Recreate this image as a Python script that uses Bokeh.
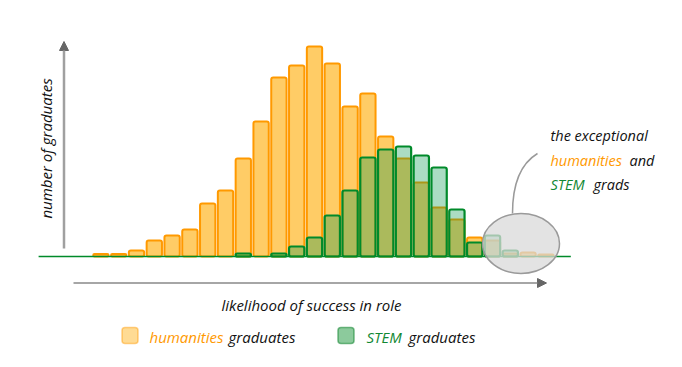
import math
from bokeh.plotting import figure
from bokeh.core.properties import value
from bokeh.models import Arrow, NormalHead
from bokeh.embed import file_html
from bokeh.resources import INLINE

# ---------------- data ----------------
bins = list(range(29))  # likelihood-of-success bins (left = low, right = high)
humanities = [0, 0, 0, 2.5, 2.5, 6, 16, 21, 27, 53, 66, 98, 135, 179, 191, 210,
              193, 150, 163, 120, 98, 74, 49, 37, 19, 16, 3, 4, 2]
stem = [0, 0, 0, 0, 0, 0, 0, 0, 0, 0, 0, 3, 0, 3, 10, 19, 41, 66, 99, 107,
        110, 101, 89, 47, 14, 21, 6, 0, 0]
x_label = "likelihood of success in role"
y_label = "number of graduates"
legend_labels = ["humanities", "STEM"]

# ---------------- styles ----------------
ORANGE = "#FF9900"
ORANGE_FILL = "#FFCC66"
GREEN = "#008A2A"
GREEN_FILL = "#00964A"
GREEN_TXT = "#118833"
FONT = value("Open Sans")

W, H = 666, 351
STEP = 17.8          # px per bin
X0 = 47              # px of first bin centre
BASE = 256           # px of zero line from top

x_start = -X0 / STEP
x_end = x_start + W / STEP

def sx(px):
    return (px - X0) / STEP

def sy(py):
    return BASE - py

p = figure(width=W, height=H, x_range=(x_start, x_end), y_range=(-(H - BASE), BASE),
           output_backend="svg", toolbar_location=None,
           x_axis_location=None, y_axis_location=None, min_border=0)
p.grid.visible = False
p.outline_line_color = None
p.background_fill_color = "white"

hx = [b for b, v in zip(bins, humanities) if v > 0]
hv = [v for v in humanities if v > 0]
gx = [b for b, v in zip(bins, stem) if v > 0]
gv = [v for v in stem if v > 0]

p.vbar(x=hx, top=hv, bottom=0, width=0.86, fill_color=ORANGE_FILL,
       line_color=ORANGE, line_width=2, border_radius=2)

n = len(bins)
p.segment(x0=[-0.5], y0=[0], x1=[n + 0.4], y1=[0], line_color=GREEN, line_width=1.5)

p.vbar(x=gx, top=gv, bottom=0, width=0.86, fill_color=GREEN_FILL, fill_alpha=0.33,
       line_color=GREEN, line_width=2.2, border_radius=2)

# highlight ellipse + pointer curve
p.ellipse(x=[sx(520.5)], y=[sy(243)], width=77 / STEP, height=60,
          fill_color="#D9D9D9", fill_alpha=0.75, line_color="#9A9A9A", line_width=1.5)
p.quadratic(x0=[sx(537)], y0=[sy(153)], x1=[sx(512)], y1=[sy(213)],
            cx=[sx(512)], cy=[sy(168)], line_color="#9A9A9A", line_width=1.5)

# axis arrows
p.add_layout(Arrow(end=NormalHead(size=9, fill_color="#666666", line_color="#666666"),
                   x_start=sx(63.5), y_start=sy(248), x_end=sx(63.5), y_end=sy(41),
                   line_color="#A0A0A0", line_width=2.5))
p.add_layout(Arrow(end=NormalHead(size=9, fill_color="#666666", line_color="#666666"),
                   x_start=sx(73), y_start=sy(282.5), x_end=sx(546), y_end=sy(282.5),
                   line_color="#888888", line_width=1.5))

def txt(px, py, s, color="#111111", size="14.5px", align="left", angle=0):
    p.text(x=[sx(px)], y=[sy(py)], text=[s], text_font=FONT, text_font_style="italic",
           text_font_size=size, text_color=color, text_align=align,
           text_baseline="middle", angle=angle)

txt(45, 148, y_label, align="center", angle=math.pi / 2, size="15px")
txt(311, 304, x_label, align="center", size="15px")

# annotation
txt(550, 135, "the exceptional")
txt(550, 160, legend_labels[0], color=ORANGE)
txt(629, 160, "and")
txt(550, 184, legend_labels[1], color=GREEN_TXT)
txt(593, 184, "grads")

# legend
p.rect(x=[sx(129.5), sx(345.5)], y=[sy(335), sy(335)], width=16, height=16,
       width_units="screen", height_units="screen",
       fill_color=[ORANGE_FILL, "#2E9E4A"], fill_alpha=[0.7, 0.55],
       line_color=[ORANGE, "#1E8C3A"], line_alpha=[0.45, 0.6], line_width=1.5,
       border_radius=3)
txt(149, 336, legend_labels[0], color=ORANGE, size="15px")
txt(228, 336, "graduates", size="15px")
txt(366, 336, legend_labels[1], color=GREEN_TXT, size="15px")
txt(408, 336, "graduates", size="15px")

open("out.html", "w").write(file_html(p, INLINE))
